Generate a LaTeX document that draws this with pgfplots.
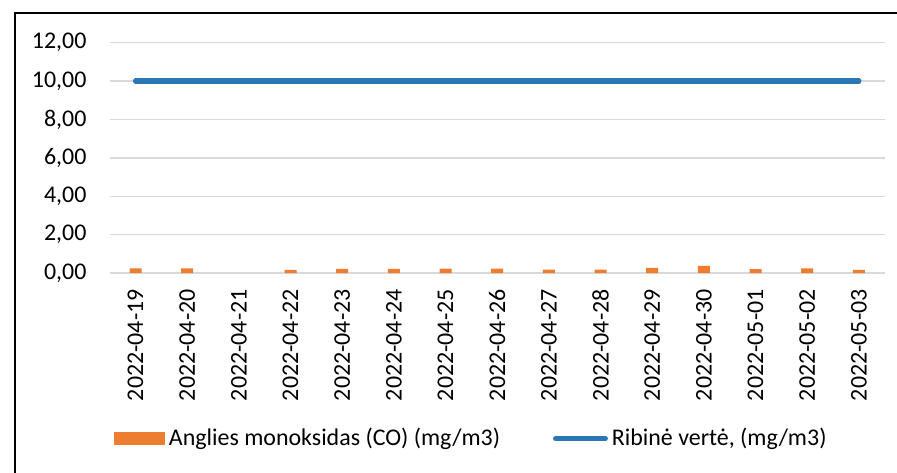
\documentclass[border=0pt]{standalone}
\usepackage{fontspec}
\setmainfont{Carlito}
\usepackage{pgfplots}
\pgfplotsset{compat=1.18}
\definecolor{cobar}{HTML}{ED7D31}
\definecolor{limline}{HTML}{2E75B6}
\definecolor{gridc}{HTML}{D9D9D9}
\begin{document}
\fontsize{12}{14.4}\selectfont
\begin{tikzpicture}
\useasboundingbox (0,0) rectangle (448bp,236bp);
\fill[white] (0,0) rectangle (448bp,236bp);
\draw[line width=1.1pt] (7.5pt,0pt) -- (7.5pt,230.3pt) -- (448bp,230.3pt);
\begin{axis}[
  at={(55pt,100pt)}, anchor=south west,
  scale only axis, width=388.5pt, height=115.5pt,
  xmin=-0.5, xmax=14.5, ymin=0, ymax=12,
  ytick={0,2,...,12},
  xtick={0,...,14},
  xticklabels={2022-04-19,2022-04-20,2022-04-21,2022-04-22,2022-04-23,2022-04-24,2022-04-25,2022-04-26,2022-04-27,2022-04-28,2022-04-29,2022-04-30,2022-05-01,2022-05-02,2022-05-03},
  xticklabel style={yshift=-4pt, rotate=90, anchor=east, font=\fontsize{12}{14.4}\selectfont},
  yticklabel style={font=\fontsize{12}{14.4}\selectfont, xshift=-7.5pt},
  /pgf/number format/.cd, fixed, fixed zerofill, precision=2, use comma, assume math mode=true,
  /pgfplots/.cd,
  axis line style={draw=none},
  tick style={draw=none},
  ymajorgrids, grid style={gridc, line width=0.7pt},
  legend columns=2,
  legend style={at={(rel axis cs:0,-0.7186)}, anchor=west, draw=none, fill=none,
    font=\fontsize{12}{14.4}\selectfont, inner sep=0pt, xshift=2pt,
    nodes={inner sep=2pt},
    /tikz/every odd column/.append style={column sep=0pt},
    /tikz/every even column/.append style={column sep=24.5pt}},
  legend cell align=left,
  clip=false,
]
\addplot[ybar, bar width=6pt, fill=cobar, draw=none,
  legend image code/.code={\fill[cobar] (0pt,-3.25pt) rectangle (25.5pt,3.25pt);}]
  coordinates {(0,0.25) (1,0.25) (3,0.17) (4,0.22) (5,0.22) (6,0.23) (7,0.23) (8,0.18) (9,0.18) (10,0.27) (11,0.38) (12,0.21) (13,0.25) (14,0.16)};
\addlegendentry{Anglies monoksidas (CO) (mg/m3)}
\addplot[limline, line width=2.6pt, line cap=round,
  legend image code/.code={\draw[limline, line width=2.4pt, line cap=round] (1.2pt,0pt) -- (26.3pt,0pt);}]
  coordinates {(0,10) (1,10) (2,10) (3,10) (4,10) (5,10) (6,10) (7,10) (8,10) (9,10) (10,10) (11,10) (12,10) (13,10) (14,10)};
\addlegendentry{Ribinė vertė, (mg/m3)}
\end{axis}
\end{tikzpicture}
\end{document}
